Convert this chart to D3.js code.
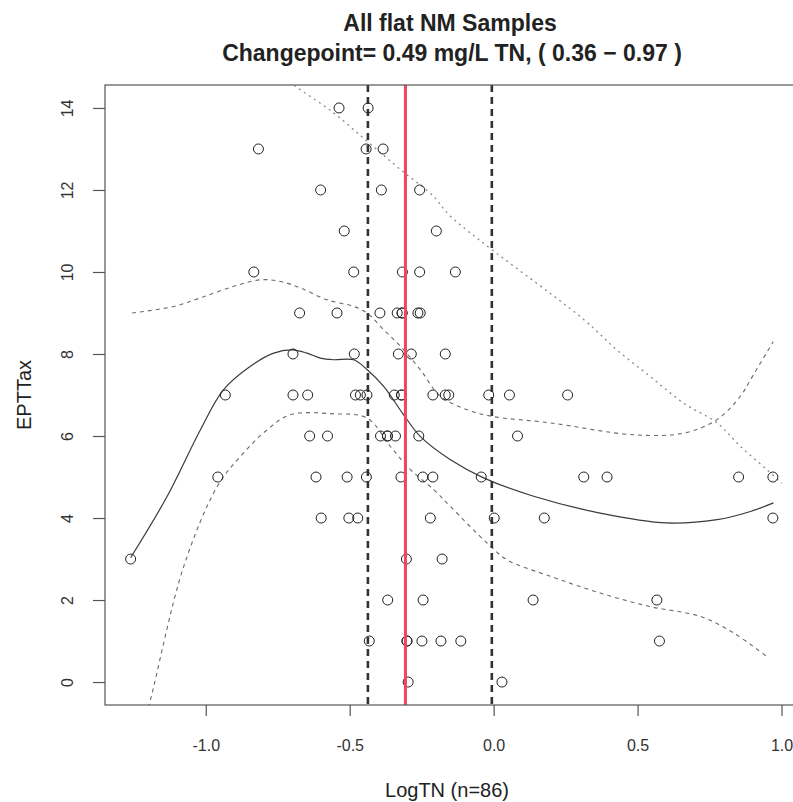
<!DOCTYPE html>
<html>
<head>
<meta charset="utf-8">
<script src="https://cdn.jsdelivr.net/npm/d3@7"></script>
<style>
  body { margin: 0; background: #fff; }
  svg { display: block; font-family: "Liberation Sans", Arial, sans-serif; }
</style>
</head>
<body>
<div id="chart"></div>
<script>
// observations: LogTN (x) and EPTTax (y)
var logTN = [
  -0.537, -0.436,
  -0.817, -0.443, -0.384,
  -0.601, -0.390, -0.257,
  -0.519, -0.199,
  -0.833, -0.486, -0.317, -0.257, -0.133,
  -0.674, -0.544, -0.395, -0.335, -0.318, -0.318, -0.263, -0.255,
  -0.697, -0.484, -0.331, -0.286, -0.168,
  -0.932, -0.697, -0.646, -0.480, -0.463, -0.440, -0.345, -0.320, -0.320, -0.211, -0.168, -0.156, -0.017, 0.055, 0.257,
  -0.639, -0.577, -0.393, -0.369, -0.369, -0.341, -0.260, 0.083,
  -0.958, -0.617, -0.509, -0.442, -0.322, -0.246, -0.211, -0.043, 0.313, 0.394, 0.851, 0.970,
  -0.599, -0.503, -0.472, -0.220, 0.002, 0.176, 0.970,
  -1.261, -0.303, -0.179,
  -0.368, -0.245, 0.137, 0.567,
  -0.432, -0.301, -0.301, -0.249, -0.183, -0.114, 0.576,
  -0.297, 0.029
];
var eptTax = [
  14, 14,
  13, 13, 13,
  12, 12, 12,
  11, 11,
  10, 10, 10, 10, 10,
  9, 9, 9, 9, 9, 9, 9, 9,
  8, 8, 8, 8, 8,
  7, 7, 7, 7, 7, 7, 7, 7, 7, 7, 7, 7, 7, 7, 7,
  6, 6, 6, 6, 6, 6, 6, 6,
  5, 5, 5, 5, 5, 5, 5, 5, 5, 5, 5, 5,
  4, 4, 4, 4, 4, 4, 4,
  3, 3, 3,
  2, 2, 2, 2,
  1, 1, 1, 1, 1, 1, 1,
  0, 0
];

// smooth fit and bands
var fitX = [-1.261, -1.134, -1.018, -0.938, -0.845, -0.764, -0.700, -0.648, -0.602, -0.556, -0.486, -0.440, -0.382, -0.313, -0.255, -0.150, -0.035, 0.139, 0.370, 0.602, 0.776, 0.892, 0.972];
var fitY = [3.03, 4.53, 6.16, 7.13, 7.70, 8.02, 8.10, 8.02, 7.90, 7.86, 7.86, 7.62, 7.21, 6.52, 5.99, 5.42, 4.98, 4.53, 4.12, 3.88, 3.96, 4.16, 4.37];

var upperX = [-1.256, -1.111, -1.018, -0.903, -0.810, -0.741, -0.671, -0.578, -0.486, -0.440, -0.382, -0.324, -0.255, -0.185, -0.092, -0.006, 0.197, 0.486, 0.660, 0.776, 0.857, 0.892, 0.971];
var upperY = [9.0, 9.16, 9.37, 9.65, 9.81, 9.77, 9.61, 9.32, 9.16, 9.0, 8.59, 8.19, 7.62, 6.97, 6.64, 6.48, 6.32, 6.03, 6.07, 6.40, 6.97, 7.37, 8.30];

var lowerX = [-1.215, -1.192, -1.077, -0.960, -0.880, -0.787, -0.706, -0.556, -0.440, -0.359, -0.289, -0.208, -0.150, -0.023, 0.047, 0.197, 0.370, 0.544, 0.718, 0.833, 0.949];
var lowerY = [-1.0, -0.43, 2.81, 4.77, 5.50, 6.15, 6.52, 6.54, 6.44, 5.75, 5.18, 4.69, 4.28, 3.39, 2.98, 2.58, 2.17, 1.84, 1.60, 1.20, 0.62];

var trendX = [-0.760, -0.689, -0.556, -0.440, -0.324, -0.208, -0.150, 0.313, 0.428, 0.544, 0.660, 0.776, 0.857, 0.949, 1.000];
var trendY = [14.9, 14.53, 13.88, 13.19, 12.50, 11.84, 11.36, 8.84, 8.10, 7.45, 6.80, 6.32, 5.75, 5.18, 4.85];

// changepoint and its interval, mg/L TN
var changepoint = [0.49, 0.36, 0.97];

var xTicks = [-1.0, -0.5, 0.0, 0.5, 1.0];
var yTicks = [0, 2, 4, 6, 8, 10, 12, 14];

var width = 793, height = 802;
var plotLeft = 105, plotRight = 798.5, plotTop = 85, plotBottom = 705;

var svg = d3.select("#chart").append("svg")
    .attr("width", width)
    .attr("height", height);

var x = d3.scaleLinear().domain([-1.35, 1.059]).range([plotLeft, plotRight]);
var y = d3.scaleLinear().domain([-0.56, 14.56]).range([plotBottom, plotTop]);

svg.append("clipPath").attr("id", "plot-clip")
  .append("rect")
    .attr("x", plotLeft).attr("y", plotTop)
    .attr("width", plotRight - plotLeft).attr("height", plotBottom - plotTop);

var plot = svg.append("g").attr("clip-path", "url(#plot-clip)");

function curve(xs, ys) {
  return d3.line()
      .x(function(d) { return x(d[0]); })
      .y(function(d) { return y(d[1]); })
      .curve(d3.curveCatmullRom)(d3.zip(xs, ys));
}

// dotted trend line
plot.append("path")
    .attr("d", curve(trendX, trendY))
    .attr("fill", "none")
    .attr("stroke", "#8a8a8a")
    .attr("stroke-width", 1.3)
    .attr("stroke-dasharray", "2,4");

// confidence bands
[[upperX, upperY], [lowerX, lowerY]].forEach(function(b) {
  plot.append("path")
      .attr("d", curve(b[0], b[1]))
      .attr("fill", "none")
      .attr("stroke", "#6a6a6a")
      .attr("stroke-width", 1.1)
      .attr("stroke-dasharray", "4,4");
});

// smooth fit
plot.append("path")
    .attr("d", curve(fitX, fitY))
    .attr("fill", "none")
    .attr("stroke", "#3a3a3a")
    .attr("stroke-width", 1.2);

// interval bounds
[changepoint[1], changepoint[2]].forEach(function(v) {
  plot.append("line")
      .attr("x1", x(Math.log10(v)) + 2).attr("x2", x(Math.log10(v)) + 2)
      .attr("y1", plotTop).attr("y2", plotBottom)
      .attr("stroke", "#333")
      .attr("stroke-width", 2.6)
      .attr("stroke-dasharray", "7,5");
});

// points
plot.selectAll("circle")
    .data(d3.zip(logTN, eptTax))
  .enter().append("circle")
    .attr("cx", function(d) { return x(d[0]); })
    .attr("cy", function(d) { return y(d[1]); })
    .attr("r", 5)
    .attr("fill", "none")
    .attr("stroke", "#222")
    .attr("stroke-width", 1);

// changepoint
plot.append("line")
    .attr("x1", x(Math.log10(changepoint[0])) + 1).attr("x2", x(Math.log10(changepoint[0])) + 1)
    .attr("y1", plotTop).attr("y2", plotBottom)
    .attr("stroke", "#ee4560")
    .attr("stroke-width", 3);

// box
svg.append("rect")
    .attr("x", plotLeft).attr("y", plotTop)
    .attr("width", plotRight - plotLeft).attr("height", plotBottom - plotTop)
    .attr("fill", "none")
    .attr("stroke", "#555")
    .attr("stroke-width", 1.2);

// axes
var xAxis = svg.append("g")
    .attr("transform", "translate(0," + plotBottom + ")")
    .call(d3.axisBottom(x).tickValues(xTicks).tickSize(11).tickPadding(24).tickFormat(d3.format(".1f")));
var yAxis = svg.append("g")
    .attr("transform", "translate(" + (plotLeft - 12) + ",0)")
    .call(d3.axisLeft(y).tickValues(yTicks).tickSize(0).tickFormat(d3.format("d")));

[xAxis, yAxis].forEach(function(a) {
  a.select(".domain").remove();
  a.selectAll("line").attr("stroke", "#555").attr("stroke-width", 1.2);
  a.selectAll("text")
      .attr("fill", "#333")
      .attr("font-size", 16)
      .attr("font-family", "'Liberation Sans', Arial, sans-serif");
});

// R style hyphen minus
xAxis.selectAll(".tick text").text(function(d) { return d3.format(".1f")(d).replace("\u2212", "-"); });

// y ticks: line from axis, rotated labels
yAxis.selectAll(".tick").each(function() {
  var t = d3.select(this);
  t.append("line").attr("x1", 0).attr("x2", 12).attr("stroke", "#555").attr("stroke-width", 1.2);
  t.select("text")
      .attr("x", 0).attr("dy", null)
      .attr("text-anchor", "middle")
      .attr("transform", "translate(-24,0) rotate(-90)")
      .attr("dominant-baseline", "middle");
});

// titles
svg.append("text")
    .attr("x", 450).attr("y", 31)
    .attr("text-anchor", "middle")
    .attr("font-size", 23).attr("font-weight", "bold").attr("fill", "#222")
    .text("All flat NM Samples");
svg.append("text")
    .attr("x", 452).attr("y", 61)
    .attr("text-anchor", "middle")
    .attr("font-size", 23).attr("font-weight", "bold").attr("fill", "#222")
    .text("Changepoint= 0.49 mg/L TN, ( 0.36 \u2212 0.97 )");

svg.append("text")
    .attr("x", 447).attr("y", 797)
    .attr("text-anchor", "middle")
    .attr("font-size", 20).attr("fill", "#222")
    .text("LogTN (n=86)");

svg.append("text")
    .attr("transform", "translate(31,395) rotate(-90)")
    .attr("text-anchor", "middle")
    .attr("font-size", 20).attr("fill", "#222")
    .text("EPTTax");
</script>
</body>
</html>
